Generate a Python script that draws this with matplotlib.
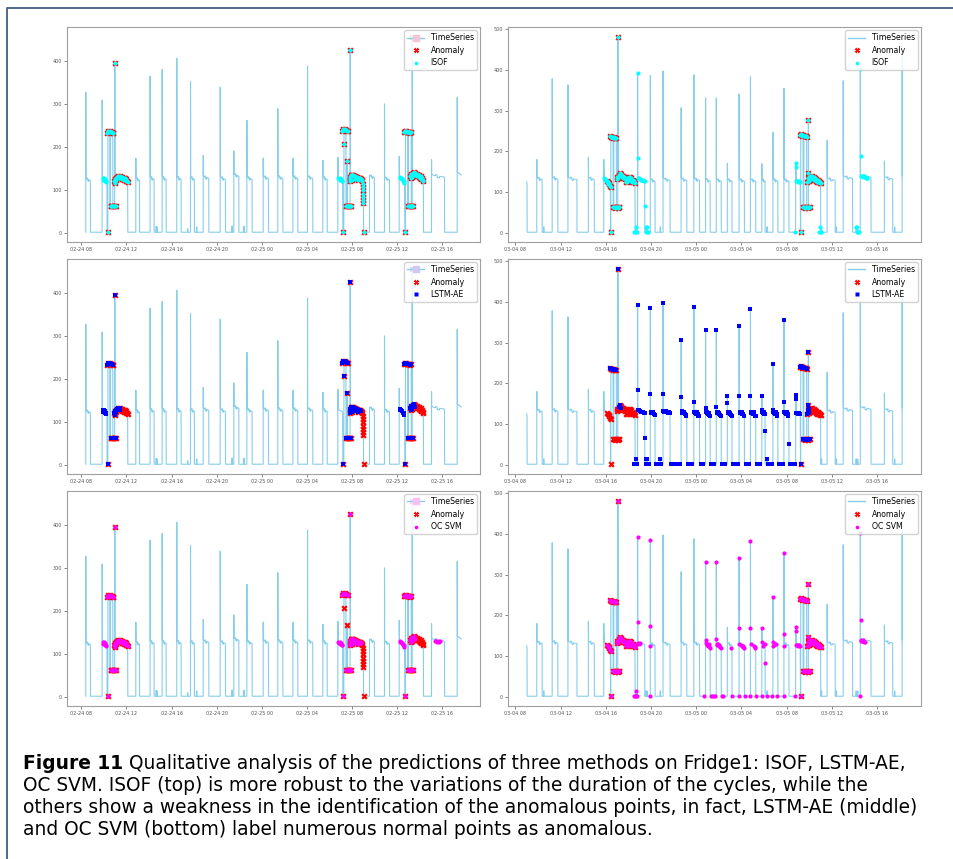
import numpy as np
import pandas as pd
import matplotlib
matplotlib.use('Agg')
import matplotlib.pyplot as plt
import matplotlib.dates as mdates
from matplotlib.lines import Line2D

# ---------------- data (hours since midnight of the first day, watts) ----------------
LEFT_DAY = '2021-02-24'
RIGHT_DAY = '2021-03-04'

# normal fridge cycles: switch-on, switch-off, start-up spike, plateau level
L_on = [8.385, 12.83, 14.10, 15.17, 16.47, 17.69, 18.82, 20.33, 21.54, 22.70, 24.15, 25.45,
        26.79, 28.09, 29.45, 33.60, 34.93, 39.11]
L_off = [8.80, 13.16, 14.46, 15.53, 16.86, 18.04, 19.32, 20.80, 21.99, 23.17, 24.62, 25.90,
         27.23, 28.56, 29.84, 34.04, 35.38, 40.27]
L_peak = [327, 174, 365, 380, 406, 352, 180, 339, 191, 262, 174, 289, 174, 388, 169, 133, 300, 171]
L_level = [125, 126, 128, 128, 128, 128, 130, 128, 135, 128, 130, 130, 130, 130, 128, 132, 127, 133]
L_blip_t = [14.62, 14.70, 17.42, 18.22, 21.36, 22.42]
L_blip_v = [15, 14, 10, 14, 16, 16]
# irregular stretches of the signal
LX1_t = [9.830, 9.837, 9.87, 10.05, 10.22, 10.26, 10.28, 10.34, 10.35, 10.52, 10.53, 10.57, 10.58,
         10.78, 10.79, 10.95, 10.963, 10.98, 11.10, 11.25, 11.50, 11.80, 11.90, 11.95, 12.10, 12.12]
LX1_v = [2, 309, 127, 125, 122, 118, 2, 2, 235, 236, 62, 62, 234, 233, 62, 62, 396, 118, 128, 132,
         130, 126, 120, 124, 119, 2]
LX2_t = [30.780, 30.785, 30.82, 31.00, 31.18, 31.21, 31.23, 31.31, 31.32, 31.33, 31.50, 31.51, 31.60,
         31.615, 31.63, 31.87, 31.881, 31.90, 32.10, 32.40, 32.80, 32.98, 33.00, 33.02, 33.04, 33.06, 33.07]
LX2_v = [2, 176, 128, 127, 124, 120, 2, 2, 207, 240, 238, 62, 62, 168, 62, 62, 425, 125, 135, 132, 128,
         122, 110, 95, 80, 70, 2]
LX3_t = [36.230, 36.237, 36.26, 36.50, 36.72, 36.76, 36.78, 36.79, 37.00, 37.01, 37.04, 37.05, 37.30,
         37.31, 37.385, 37.393, 37.41, 37.60, 37.90, 38.20, 38.38, 38.40]
LX3_v = [2, 178, 130, 126, 120, 2, 2, 235, 235, 62, 62, 235, 234, 62, 62, 456, 133, 142, 135, 128, 122, 2]
L_tail_t = [41.389, 41.393, 41.41, 41.60, 41.748]
L_tail_v = [2, 315, 142, 138, 135]

R_on = [9.896, 11.26, 12.652, 14.459, 18.815, 19.941, 21.067, 22.667, 23.793, 24.83, 25.778, 26.756,
        27.793, 28.80, 29.807, 30.785, 31.763, 35.585, 37.007, 38.519, 40.652]
R_off = [10.37, 11.76, 13.45, 14.99, 19.45, 20.36, 21.69, 23.17, 24.30, 25.24, 26.22, 27.17,
         28.27, 29.27, 30.10, 31.23, 32.21, 36.30, 37.84, 39.47, 41.39]
R_peak = [180, 378, 363, 185, 393, 386, 397, 307, 388, 331, 331, 171, 341, 383, 170, 247, 355,
          227, 373, 401, 176]
R_level = [134, 135, 134, 134, 132, 130, 132, 132, 132, 130, 130, 130, 130, 130, 130, 130, 130,
           132, 137, 140, 135]
R_blip_t = [10.49, 18.64, 19.53, 19.64, 20.80, 30.25, 35.06, 36.38, 38.13, 38.27, 41.54]
R_blip_v = [15, 15, 15, 14, 15, 15, 15, 15, 15, 14, 15]
R_head_t = [9.007, 9.03, 9.04]
R_head_v = [125, 120, 2]
RX1_t = [15.815, 15.822, 15.85, 16.00, 16.20, 16.40, 16.42, 16.44, 16.45, 16.64, 16.65, 16.70, 16.71,
         16.93, 16.94, 17.06, 17.067, 17.09, 17.25, 17.50, 17.75, 17.85, 17.90, 18.20, 18.50, 18.58, 18.60]
RX1_v = [2, 180, 135, 131, 125, 115, 2, 2, 236, 235, 63, 63, 234, 232, 63, 63, 481, 135, 146, 140,
         130, 124, 136, 136, 126, 122, 2]
RX2_t = [32.795, 32.800, 32.83, 32.85, 33.00, 33.20, 33.23, 33.244, 33.25, 33.45, 33.46, 33.52, 33.53,
         33.77, 33.78, 33.92, 33.926, 33.93, 33.95, 34.05, 34.20, 34.50, 34.80, 35.00, 35.02]
RX2_v = [2, 172, 165, 128, 128, 126, 2, 2, 240, 238, 63, 63, 237, 236, 63, 63, 278, 148, 125, 138,
         140, 133, 125, 122, 2]
R_tail_t = [42.218, 42.222, 42.228]
R_tail_v = [2, 430, 140]

# labelled anomalies, left column  (hour, watts)
L_c1 = [(10.34, 2), (10.28, 233), (10.35, 236), (10.42, 235), (10.49, 236), (10.56, 234), (10.63, 235),
        (10.70, 234), (10.77, 233), (10.84, 232), (10.58, 63), (10.66, 62), (10.74, 63), (10.82, 62),
        (10.90, 62), (10.98, 63), (11.06, 62), (10.963, 396)]
L_b1 = [(10.90, 122), (10.94, 116), (10.98, 126), (11.02, 118), (11.06, 128), (11.10, 124), (11.15, 131),
        (11.20, 127), (11.26, 133), (11.32, 128), (11.38, 132), (11.44, 127)]
L_b1r = [(11.50, 131), (11.56, 126), (11.62, 130), (11.68, 125), (11.74, 129), (11.80, 124), (11.86, 127),
         (11.92, 122), (11.98, 125), (12.04, 120), (12.10, 118)]
L_c2 = [(31.23, 2), (31.18, 238), (31.25, 242), (31.32, 240), (31.39, 241), (31.46, 239), (31.53, 240),
        (31.60, 238), (31.67, 237), (31.53, 63), (31.60, 62), (31.67, 63), (31.74, 62), (31.81, 63),
        (31.88, 62), (31.95, 62), (31.881, 425)]
L_c2s = [(31.32, 207), (31.615, 168)]
L_b2 = [(31.82, 125), (31.86, 121), (31.90, 131), (31.96, 134), (32.02, 136), (32.08, 135), (32.14, 134),
        (32.20, 133), (32.26, 133), (32.32, 132), (32.38, 131), (32.44, 130), (32.50, 130), (32.56, 129),
        (32.62, 128), (32.68, 128), (32.74, 127), (32.80, 126), (32.86, 125), (32.00, 124), (32.30, 125),
        (32.60, 123)]
L_b2r = [(32.92, 124), (32.97, 121), (33.00, 115), (33.01, 107), (33.02, 99), (33.03, 91), (33.04, 84),
         (33.05, 77), (33.06, 70), (33.07, 2)]
L_c3 = [(36.77, 2), (36.65, 234), (36.72, 236), (36.79, 235), (36.86, 236), (36.93, 235), (37.00, 234),
        (37.07, 235), (37.14, 234), (37.21, 233), (37.28, 234), (37.00, 62), (37.08, 63), (37.16, 62),
        (37.24, 63), (37.32, 62), (37.40, 62), (37.50, 63), (37.393, 456)]
L_b3 = [(37.22, 133), (37.27, 128), (37.32, 137), (37.37, 131), (37.42, 140), (37.48, 135), (37.54, 142),
        (37.60, 136)]
L_b3r = [(37.66, 140), (37.72, 134), (37.78, 138), (37.84, 132), (37.90, 136), (37.96, 130), (38.02, 134),
         (38.08, 128), (38.14, 132), (38.20, 126), (38.26, 129), (38.32, 124), (38.38, 122)]
# extra detections, left column
L_pre1 = [(9.90, 128), (9.95, 124), (10.00, 127), (10.05, 122), (10.10, 125), (10.15, 119), (10.20, 121)]
L_pre2 = [(30.82, 128), (30.88, 125), (30.94, 127), (31.00, 124), (31.06, 126), (31.12, 122), (31.18, 121)]
L_pre3 = [(36.27, 131), (36.33, 128), (36.39, 129), (36.45, 126), (36.51, 125), (36.57, 122), (36.63, 120),
          (36.69, 117)]
L_svm_tail = [(39.42, 130), (39.50, 131), (39.58, 129), (39.66, 130), (39.74, 129), (39.82, 130)]

# labelled anomalies, right column
R_pre = [(16.12, 128), (16.18, 125), (16.24, 122), (16.30, 119), (16.36, 116), (16.42, 114)]
R_c1a = [(16.44, 2), (16.65, 63), (16.73, 63), (16.81, 62), (16.89, 63), (16.97, 63), (17.05, 62),
         (17.13, 63), (17.19, 63)]
R_c1b = [(16.36, 237), (16.43, 236), (16.50, 235), (16.57, 236), (16.64, 234), (16.71, 235), (16.78, 233),
         (16.85, 234), (16.92, 232), (17.067, 481)]
R_b1 = [(16.95, 133), (17.01, 138), (17.07, 136), (17.13, 142), (17.19, 140), (17.25, 146), (17.31, 141),
        (17.37, 144), (17.43, 139), (17.49, 141), (17.55, 136), (17.61, 138), (17.67, 132), (17.73, 134),
        (17.79, 126), (17.85, 124), (17.91, 136), (17.97, 132), (18.03, 138), (18.09, 130), (18.15, 137),
        (18.21, 128), (18.27, 134), (18.33, 125), (18.39, 131), (18.45, 124), (18.51, 127), (18.57, 122)]
R_c2 = [(33.244, 2), (33.18, 240), (33.25, 242), (33.32, 240), (33.39, 239), (33.46, 241), (33.53, 238),
        (33.60, 239), (33.67, 237), (33.74, 238), (33.78, 236), (33.48, 63), (33.56, 63), (33.64, 62),
        (33.72, 63), (33.80, 63), (33.88, 62), (33.96, 63), (34.04, 63), (33.926, 278), (33.93, 148)]
R_b2a = [(33.84, 125), (33.90, 135), (33.96, 128), (34.02, 138)]
R_b2b = [(34.08, 132), (34.14, 140), (34.20, 135), (34.26, 139), (34.32, 133), (34.38, 137), (34.44, 131),
         (34.50, 134), (34.56, 128), (34.62, 132), (34.68, 126), (34.74, 129), (34.80, 124), (34.86, 127),
         (34.92, 122), (34.98, 125), (35.02, 122)]
# extra detections, right column
R_iso_a = [(15.84, 135), (15.90, 133), (15.96, 131), (16.02, 130), (16.08, 128), (16.14, 124), (16.20, 120)]
R_off_a = [(18.52, 2), (18.58, 3), (18.64, 15), (18.70, 2), (18.76, 3)]
R_cyc_b = [(18.815, 393), (18.815, 183), (18.87, 136), (18.94, 134), (19.01, 133), (19.08, 131),
           (19.15, 130), (19.22, 130), (19.29, 129), (19.36, 128), (19.43, 128)]
R_off_b = [(19.467, 67), (19.53, 15), (19.58, 3), (19.64, 14), (19.70, 2), (19.76, 2)]
R_cyc_c = [(32.74, 2), (32.80, 172), (32.80, 162), (32.86, 128), (32.92, 127), (32.98, 128), (33.04, 126),
           (33.10, 127), (33.16, 125)]
R_off_c = [(34.88, 2), (34.94, 15), (35.00, 3), (35.06, 2)]
R_off_d = [(38.13, 15), (38.20, 3), (38.27, 14), (38.34, 2), (38.41, 2)]
R_cyc_d = [(38.519, 401), (38.55, 190), (38.60, 140), (38.66, 139), (38.72, 140), (38.78, 138),
           (38.84, 139), (38.90, 137), (38.96, 138), (39.02, 136), (39.08, 136), (39.15, 135)]
R_lstm_b1 = [(17.13, 142), (17.25, 146), (17.31, 141)]
R_lstm_mid = [
    (19.82, 2),
    (19.941, 386), (19.941, 174), (19.98, 131), (20.04, 128), (20.10, 130), (20.16, 127), (20.22, 129),
    (20.28, 125), (20.34, 123),
    (20.42, 2), (20.55, 2), (20.68, 2), (20.80, 15), (20.92, 2),
    (21.067, 397), (21.067, 175), (21.10, 133), (21.16, 131), (21.22, 133), (21.28, 130), (21.34, 132),
    (21.40, 129), (21.46, 131), (21.52, 128), (21.58, 130), (21.64, 127),
    (21.75, 2), (21.88, 2), (22.01, 2), (22.14, 2), (22.27, 2), (22.40, 2), (22.53, 2),
    (22.667, 307), (22.667, 167), (22.70, 132), (22.76, 128), (22.82, 131), (22.88, 127), (22.94, 130),
    (23.00, 125), (23.06, 122), (23.12, 120),
    (23.25, 2), (23.38, 2), (23.51, 2), (23.64, 2),
    (23.793, 387), (23.793, 155), (23.83, 131), (23.89, 128), (23.95, 130), (24.01, 126), (24.07, 129),
    (24.13, 124), (24.19, 121), (24.25, 120),
    (24.38, 2), (24.51, 2), (24.64, 2),
    (24.83, 330), (24.83, 141), (24.86, 131), (24.92, 127), (24.98, 130), (25.04, 126), (25.10, 128),
    (25.16, 123), (25.22, 120),
    (25.33, 2), (25.46, 2), (25.59, 2),
    (25.778, 330), (25.778, 143), (25.81, 130), (25.87, 127), (25.93, 129), (25.99, 125), (26.05, 128),
    (26.11, 123), (26.17, 121),
    (26.30, 2), (26.43, 2), (26.56, 2),
    (26.756, 170), (26.756, 152), (26.79, 130), (26.85, 127), (26.91, 129), (26.97, 125), (27.03, 128),
    (27.09, 122), (27.15, 120),
    (27.28, 2), (27.41, 2), (27.54, 2), (27.67, 2),
    (27.793, 340), (27.793, 168), (27.83, 131), (27.89, 128), (27.95, 130), (28.01, 126), (28.07, 129),
    (28.13, 124), (28.19, 121), (28.25, 120),
    (28.38, 2), (28.51, 2), (28.64, 2),
    (28.80, 383), (28.80, 170), (28.83, 131), (28.89, 128), (28.95, 130), (29.01, 126), (29.07, 129),
    (29.13, 124), (29.19, 121), (29.25, 120),
    (29.38, 2), (29.51, 2), (29.64, 2),
    (29.807, 170), (29.807, 135), (29.84, 131), (29.90, 128), (29.96, 130), (30.02, 126), (30.08, 124),
    (30.13, 84), (30.25, 15),
    (30.35, 2), (30.48, 2), (30.61, 2), (30.72, 2),
    (30.785, 247), (30.785, 135), (30.82, 131), (30.88, 128), (30.94, 130), (31.00, 126), (31.06, 129),
    (31.12, 124), (31.18, 121),
    (31.32, 2), (31.45, 2), (31.58, 2), (31.70, 2),
    (31.763, 355), (31.763, 155), (31.80, 131), (31.86, 128), (31.92, 130), (31.98, 126), (32.04, 129),
    (32.10, 124), (32.16, 121), (32.21, 52),
    (32.32, 2), (32.45, 2), (32.58, 2),
]
R_svm_mid = [
    (18.815, 393), (18.815, 183), (18.87, 133), (18.94, 130), (19.00, 132),
    (19.941, 386), (19.941, 174), (19.941, 126), (19.941, 2),
    (24.70, 2), (24.83, 330), (24.83, 141), (24.86, 132), (24.92, 128), (24.98, 131), (25.04, 126),
    (25.10, 129), (25.16, 124), (25.22, 121),
    (25.30, 2), (25.42, 2), (25.55, 2), (25.68, 2),
    (25.778, 330), (25.778, 143), (25.81, 130), (25.87, 127), (25.93, 129), (25.99, 125), (26.05, 128),
    (26.11, 123), (26.17, 121), (26.28, 2), (26.40, 2),
    (27.12, 120), (27.18, 2),
    (27.76, 2), (27.793, 340), (27.793, 168), (27.82, 130), (28.00, 128), (28.06, 124), (28.12, 126),
    (28.18, 122), (28.24, 120), (28.30, 2),
    (28.74, 2), (28.80, 383), (28.80, 170), (28.83, 130), (29.10, 126), (29.16, 122), (29.22, 120),
    (29.28, 2),
    (29.78, 2), (29.807, 168), (29.84, 134), (29.87, 124), (30.13, 83), (30.13, 130), (30.22, 2),
    (30.73, 2), (30.785, 245), (30.80, 134), (30.83, 124), (31.00, 130), (31.10, 129), (31.17, 2),
    (31.763, 354), (31.763, 155), (31.80, 124), (31.763, 2),
]
R_svm_end = [(38.519, 402), (38.55, 189), (38.519, 2), (38.55, 138), (38.62, 139), (38.70, 137),
             (38.78, 139), (38.86, 136), (38.94, 135)]

L_anomaly = L_c1 + L_b1 + L_b1r + L_c2 + L_c2s + L_b2 + L_b2r + L_c3 + L_b3 + L_b3r
R_anomaly = R_pre + R_c1a + R_c1b + R_b1 + R_c2 + R_b2a + R_b2b

L_isof = L_pre1 + L_pre2 + L_pre3 + L_anomaly
L_lstm = L_pre1 + L_c1 + L_b1 + L_c2 + L_c2s + L_b2 + L_pre3 + L_c3 + L_b3
L_svm = L_pre1 + L_c1 + L_b1 + L_b1r + L_pre2 + L_c2 + L_b2 + L_pre3 + L_c3 + L_b3 + L_svm_tail
R_isof = R_iso_a + R_anomaly + R_off_a + R_cyc_b + R_off_b + R_cyc_c + R_off_c + R_off_d + R_cyc_d
R_lstm = R_c1b + R_lstm_b1 + R_off_a + R_cyc_b + R_off_b + R_lstm_mid + R_cyc_c + R_c2 + R_b2a
R_svm = R_pre + R_c1a + R_c1b + R_b1 + R_off_a + R_svm_mid + R_cyc_c + R_c2 + R_b2a + R_b2b + R_svm_end

METHODS = ['ISOF', 'LSTM-AE', 'OC SVM']
METHOD_COLORS = ['cyan', 'blue', 'magenta']
HANDLE_TINT = ['#f2c6d6', '#cfc8f0', '#f4c2f0']

CAPTION_HEAD = 'Figure 11'
CAPTION_LINES = [
    'Qualitative analysis of the predictions of three methods on Fridge1: ISOF, LSTM-AE,',
    'OC SVM. ISOF (top) is more robust to the variations of the duration of the cycles, while the',
    'others show a weakness in the identification of the anomalous points, in fact, LSTM-AE (middle)',
    'and OC SVM (bottom) label numerous normal points as anomalous.',
]


def build_series(on, off, peak, level, blip_t, blip_v, pieces):
    segs = []
    for a, b, p, l in zip(on, off, peak, level):
        d = b - a
        segs.append(([a - 0.004, a, a + 0.012, a + 0.3 * d, a + 0.32 * d, a + 0.42 * d, a + 0.44 * d,
                      a + 0.6 * d, a + 0.62 * d, b - 0.01, b],
                     [2, p, l + 3, l, l + 3, l + 2, l - 4, l - 5, l - 1, l - 3, 2]))
    for t, h in zip(blip_t, blip_v):
        segs.append(([t, t + 0.005, t + 0.04, t + 0.045], [2, h, h, 2]))
    segs += pieces
    segs.sort(key=lambda s: s[0][0])
    t = np.concatenate([np.asarray(s[0], float) for s in segs])
    v = np.concatenate([np.asarray(s[1], float) for s in segs])
    return t, v


def to_dates(day, hours):
    return pd.Timestamp(day) + pd.to_timedelta(np.asarray(hours, dtype=float), unit='h')


left_t, left_v = build_series(L_on, L_off, L_peak, L_level, L_blip_t, L_blip_v,
                              [(LX1_t, LX1_v), (LX2_t, LX2_v), (LX3_t, LX3_v), (L_tail_t, L_tail_v)])
right_t, right_v = build_series(R_on, R_off, R_peak, R_level, R_blip_t, R_blip_v,
                                [(R_head_t, R_head_v), (RX1_t, RX1_v), (RX2_t, RX2_v), (R_tail_t, R_tail_v)])

columns = [
    (LEFT_DAY, left_t, left_v, L_anomaly, [L_isof, L_lstm, L_svm]),
    (RIGHT_DAY, right_t, right_v, R_anomaly, [R_isof, R_lstm, R_svm]),
]

# ---------------- figure ----------------
W, H = 954, 859
fig = plt.figure(figsize=(W / 100, H / 100), dpi=100)

ax_left = [67, 508]
ax_top = [27, 259, 491]
ax_w, ax_h = 413, 215
series_color = '#87ceeb'

for col, (day, st, sv, anom, dets) in enumerate(columns):
    for row in range(3):
        ax = fig.add_axes([ax_left[col] / W, 1 - (ax_top[row] + ax_h) / H, ax_w / W, ax_h / H])
        ax.plot(to_dates(day, st), sv, color=series_color, lw=0.8, zorder=1)
        at, av = zip(*anom)
        ax.scatter(to_dates(day, at), av, marker='X', s=20, color='red', linewidths=0, zorder=2)
        mt, mv = zip(*dets[row])
        mk = 's' if row == 1 else 'o'
        ax.scatter(to_dates(day, mt), mv, marker=mk, s=8 if row == 1 else 9,
                   color=METHOD_COLORS[row], linewidths=0, zorder=3)

        ax.xaxis.set_major_locator(mdates.HourLocator(byhour=[0, 4, 8, 12, 16, 20]))
        ax.xaxis.set_major_formatter(mdates.DateFormatter('%m-%d %H'))
        ax.yaxis.set_major_locator(plt.MultipleLocator(100))
        ax.tick_params(labelsize=3.5, length=2, width=0.5, pad=1.5, colors='#555555')
        for sp in ax.spines.values():
            sp.set_color('#a0a0a0')
            sp.set_linewidth(0.8)

        if col == 0:
            ts = Line2D([], [], color=series_color, lw=1, marker='s', markersize=4,
                        mfc=HANDLE_TINT[row], mec=HANDLE_TINT[row])
        else:
            ts = Line2D([], [], color=series_color, lw=1)
        an = Line2D([], [], ls='none', marker='X', markersize=4, color='red', mec='none')
        me = Line2D([], [], ls='none', marker=mk, markersize=2.6, color=METHOD_COLORS[row], mec='none')
        ax.legend([ts, an, me], ['TimeSeries', 'Anomaly', METHODS[row]], loc='upper right',
                  fontsize=5.6, borderaxespad=0.4, handlelength=2.2, labelspacing=0.45,
                  borderpad=0.4, framealpha=0.85, edgecolor='#cccccc')

# page border
bx, by = 7.5 / W, 1 - 7.5 / H
fig.add_artist(Line2D([bx, bx, 1.01], [-0.01, by, by], transform=fig.transFigure,
                      color='#4d6a8c', lw=1.4))

# caption
renderer = fig.canvas.get_renderer()
cap_size = 13.4
cap_x0 = 23
cap_base = [769, 791, 813, 835]

for i, (line, yb) in enumerate(zip(CAPTION_LINES, cap_base)):
    x = cap_x0
    y = 1 - yb / H
    if i == 0:
        head = fig.text(x / W, y, CAPTION_HEAD, fontsize=cap_size, fontweight='bold', va='baseline')
        x = head.get_window_extent(renderer=renderer).x1 + 6
    fig.text(x / W, y, line, fontsize=cap_size, va='baseline')

fig.savefig('out.png', dpi=100)
